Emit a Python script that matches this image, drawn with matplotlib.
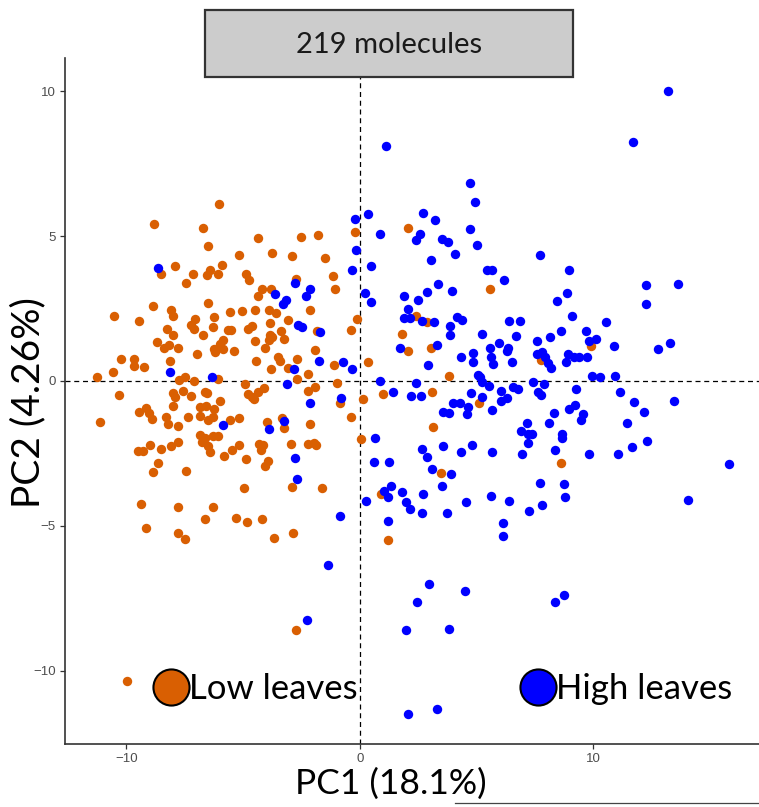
import matplotlib
matplotlib.use("Agg")
import matplotlib.pyplot as plt
from matplotlib.lines import Line2D
from matplotlib.patches import Rectangle

# ---------------- data (PC1, PC2) ----------------
low_x = [-6.03, -8.82, -6.74,
         -4.35, -6.51, -3.77, -5.19, -2.93, -2.53,
         -8.51, -7.92, -5.91, -6.42, -6.57, -6.09, -7.14, -7.44, -4.87, -4.77, -4.20, -3.82, -4.38, -2.74,
         -8.88, -6.52, -8.07, -8.02, -10.54, -9.46, -7.07, -7.24, -7.12, -6.27, -6.28, -5.57, -5.07, -4.50, -3.90, -3.61, -3.84, -3.08,
         -8.25, -8.01, -5.64, -5.52, -6.74, -4.80, -4.61, -3.40, -3.87, -3.77, -3.88, -4.50, -3.24,
         -8.68, -8.17, -8.38, -7.78, -5.85, -5.98, -6.24, -6.21, -5.85, -5.38, -6.97, -4.06,
         -10.22, -9.68, -9.69, -9.24, -10.59, -11.26, -8.12, -4.45, -3.52, -3.43, -3.81, -3.08, -2.69,
         -6.07, -7.47, -7.74, -7.11, -2.69, -4.91,
         -10.33, -8.02, -7.92, -7.58, -7.24, -6.63, -6.54, -5.98, -4.80, -4.61, -4.35, -4.10, -4.55,
         -11.13, -9.46, -9.15, -9.05, -8.92, -8.31, -8.22, -7.81, -8.02, -7.37, -6.84, -6.58, -6.24, -6.85, -6.50, -6.31, -5.55, -5.19, -4.00, -3.33, -3.24,
         -6.87, -6.64, -6.78, -6.31, -6.09, -6.50, -6.40, -9.01, -9.49, -9.31, -8.51, -8.07, -7.79, -8.65, -8.85, -7.44, -5.81, -5.47, -5.19, -4.88, -4.33, -4.13, -4.24, -3.95, -4.06, -2.96, -2.91, -4.97,
         -9.38, -7.78, -6.28, -6.63, -5.30, -4.85, -4.21, -9.14, -7.77, -7.49, -3.70, -2.86,
         -2.74, -9.99,
         -1.81, -0.19, 2.07, -1.50, -1.17, -1.08, 5.57, -2.13, -0.13, 2.41, 2.87, -1.85, -0.39, 1.81, 3.05, 2.06, -1.93, -1.11, 0.33, 3.83, -2.23, -1.94, -2.21, -0.99, 0.97, 3.10, 0.14, -0.84, 5.10,
         -0.40, -2.13, -2.21, -1.96, -1.90, -1.64, 0.04, 3.14, 3.46, 0.90, 1.19,
         9.89, 7.74, 8.60]
low_y = [6.09, 5.42, 5.28,
         4.92, 4.64, 4.40, 4.33, 4.30, 4.98,
         3.70, 3.98, 4.01, 3.83, 3.64, 3.69, 3.69, 3.38, 3.70, 3.47, 3.18, 3.18, 2.94, 3.51,
         2.60, 2.68, 2.44, 2.24, 2.23, 2.07, 2.15, 1.94, 1.80, 2.20, 1.85, 2.37, 2.41, 2.44, 2.46, 2.33, 2.00, 2.11,
         1.78, 1.59, 1.76, 1.75, 1.59, 1.80, 1.89, 1.71, 1.57, 1.53, 1.42, 1.39, 1.44,
         1.33, 1.23, 1.13, 1.15, 1.41, 1.28, 1.10, 1.00, 1.10, 1.03, 0.93, 1.14,
         0.77, 0.77, 0.53, 0.49, 0.32, 0.15, 0.70, 0.69, 0.82, 0.70, 0.41, 0.44, 0.76,
         0.06, 0.15, 0.02, -0.01, 0.08, -0.10,
         -0.49, -0.43, -0.56, -0.34, -0.51, -0.38, -0.43, -0.70, -0.45, -0.54, -0.38, -0.25, -0.63,
         -1.40, -1.06, -0.92, -1.11, -1.30, -1.23, -1.47, -1.54, -0.85, -1.23, -0.89, -0.86, -0.95, -1.21, -1.34, -1.23, -1.34, -1.26, -1.43, -1.29, -1.63,
         -1.87, -1.98, -2.10, -1.91, -1.89, -2.23, -2.45, -2.21, -2.43, -2.43, -2.34, -2.23, -2.10, -2.84, -3.13, -3.11, -2.59, -2.38, -2.21, -2.70, -2.17, -2.21, -2.38, -2.75, -2.92, -2.17, -3.64, -3.70,
         -4.25, -4.36, -4.34, -4.76, -4.71, -4.86, -4.75, -5.08, -5.23, -5.46, -5.40, -5.25,
         -8.59, -10.33,
         5.03, 5.14, 5.28, 4.23, 3.63, 3.18, 3.17, 2.44, 2.14, 2.23, 2.05, 1.72, 1.76, 1.61, 1.13, 1.02, 1.06, 0.55, 0.66, 0.18, 0.23, -0.20, -0.36, -0.08, -0.44, -0.37, -0.61, -0.75, -0.75,
         -1.23, -1.49, -2.18, -2.13, -2.21, -3.68, -2.00, -1.60, -3.18, -3.91, -5.49,
         1.22, 0.72, -2.84]

high_x = [1.10, 4.72, 4.94, -0.21, 0.34, 2.71, 3.22, 4.72,
          13.19, 11.71,
          -8.64, -3.65, -2.78, -3.16, -3.28, -2.64, -8.14, -2.84, -6.35, -3.14,
          -5.88, -3.90, -3.25, -2.78, -2.71,
          0.86, 2.57, 2.41, 3.51, 3.77, 5.01, -0.17, 4.06, 3.05, 0.46, -0.33, -2.15, -2.30, 0.23, 0.48, 5.44, 5.67, 6.17, 3.35, 3.94, 2.88, 1.87, 2.48, 2.04,
          1.87, 2.14, 2.64, 3.16, 4.15, 4.38, 3.85, 3.85, -2.50, -1.73, 6.38, 6.87, 5.24, 6.67, 5.95, 5.57, 6.35, 6.31, 3.30, 1.71,
          -1.76, -0.73, -0.34, 4.33, 4.85, 4.85, 5.60, 5.72, 6.51, 2.90, 0.86, 2.40, 5.04, 5.14, 5.21, 5.52, 6.55, 6.75, 6.03,
          1.40, 2.20, 2.63, 4.75, 5.24, 6.30, -0.81, -2.14, 4.00, 4.28, 6.03,
          0.64, 0.60, 1.25, 2.67, 2.86, 3.54, 4.31, 4.78, 5.67, 6.94, 3.57, 3.83, 4.61, 4.60, 5.67, 7.15, 6.90, 7.21,
          3.10, 3.88, 3.51, 1.31, 1.04, 1.19, 1.79, 2.71, 0.27, 1.96, 2.14, 2.67, 3.73, 4.54, 5.62, 6.38, 7.25, -0.84, 1.20, 6.12, 6.11, -1.38,
          2.94, 4.50, 2.43, -2.28, 1.98, 3.81, 2.04, 3.31,
          8.36, 8.72,
          7.71, 8.96, 12.26, 13.61, 8.87, 8.44, 12.26, 9.07, 10.55, 8.62, 9.67, 8.15, 7.59, 9.79, 10.11, 10.87, 13.26, 12.75,
          7.58, 7.81, 7.92, 8.04, 8.17, 8.89, 9.16, 9.38, 9.73, 8.82, 9.92, 10.29, 10.91, 7.41, 7.87, 7.61, 7.74, 9.25, 11.13, 11.75, 13.46,
          9.22, 8.94, 8.31, 9.54, 9.46, 8.11, 12.18, 11.45, 7.18, 7.35, 8.65, 8.67, 8.34, 9.79, 11.05, 11.66, 12.30,
          7.71, 8.74, 8.79, 7.79, 15.82, 14.05]
high_y = [8.09, 6.83, 6.17, 5.60, 5.75, 5.78, 5.55, 5.23,
          9.99, 8.23,
          3.91, 2.99, 3.37, 2.78, 2.66, 1.93, 0.31, 0.40, 0.14, -0.10,
          -1.52, -1.67, -1.37, -2.64, -3.39,
          5.07, 5.07, 4.86, 4.90, 4.79, 4.68, 4.53, 4.39, 4.16, 3.97, 3.82, 3.18, 2.92, 3.03, 2.74, 3.84, 3.84, 3.47, 3.36, 3.10, 3.06, 2.93, 2.78, 2.48,
          2.18, 2.18, 2.08, 2.03, 2.22, 2.11, 1.91, 1.58, 1.87, 1.69, 2.07, 2.07, 1.63, 1.54, 1.31, 1.13, 1.13, 1.03, 1.23, 1.14,
          0.69, 0.64, 0.42, 0.84, 0.95, 0.66, 0.82, 0.57, 0.67, 0.55, 0.01, -0.07, 0.22, 0.14, -0.02, -0.17, -0.21, -0.29, -0.33,
          -0.37, -0.53, -0.53, -0.40, -0.56, -0.59, -0.57, -0.75, -0.75, -0.77, -0.70,
          -1.98, -2.80, -2.80, -2.33, -2.61, -2.25, -2.45, -2.20, -2.44, -2.53, -1.06, -1.09, -0.91, -1.14, -1.00, -1.44, -1.74, -2.15,
          -3.02, -3.20, -3.63, -3.61, -3.79, -3.99, -3.84, -3.91, -4.14, -4.18, -4.43, -4.57, -4.56, -4.17, -3.97, -4.15, -4.48, -4.66, -4.82, -4.91, -5.34, -6.36,
          -7.01, -7.24, -7.63, -8.25, -8.59, -8.55, -11.49, -11.32,
          -7.63, -7.38,
          4.34, 3.83, 3.32, 3.36, 3.03, 2.77, 2.64, 2.25, 2.03, 1.71, 1.73, 1.53, 1.37, 1.38, 1.44, 1.21, 1.30, 1.10,
          0.92, 1.01, 0.82, 0.63, 0.44, 0.94, 0.84, 0.82, 0.84, 0.66, 0.18, 0.15, 0.18, -0.02, -0.11, -0.37, -0.47, -0.29, -0.39, -0.74, -0.70,
          -0.83, -0.95, -1.11, -1.13, -1.36, -1.45, -1.07, -1.44, -1.82, -1.83, -1.82, -1.95, -2.39, -2.51, -2.53, -2.28, -2.08,
          -3.53, -3.55, -4.01, -4.29, -2.85, -4.09]

group_labels = ["Low leaves", "High leaves"]
group_colors = ["#D95F02", "#0000FF"]
strip_title = "219 molecules"
x_title = "PC1 (18.1%)"
y_title = "PC2 (4.26%)"
x_ticks = [-10, 0, 10]
y_ticks = [-10, -5, 0, 5, 10]

# ---------------- figure ----------------
W, H = 759, 807
fig = plt.figure(figsize=(W / 100, H / 100), dpi=100)
ax = fig.add_axes([65 / W, (H - 744) / H, (759 - 65) / W, (744 - 58) / H])

ax.axhline(0, color="black", lw=0.9, ls=(0, (4, 3)), zorder=1)
ax.axvline(0, color="black", lw=0.9, ls=(0, (4, 3)), zorder=1)

ax.scatter(low_x, low_y, s=46, color=group_colors[0], linewidths=0, zorder=2)
ax.scatter(high_x, high_y, s=46, color=group_colors[1], linewidths=0, zorder=2)

ax.set_xlim(-12.63, 17.09)
ax.set_ylim(-12.52, 11.14)
ax.set_xticks(x_ticks)
ax.set_yticks(y_ticks)

for s in ["top", "right"]:
    ax.spines[s].set_visible(False)
for s in ["left", "bottom"]:
    ax.spines[s].set_color("#333333")
    ax.spines[s].set_linewidth(1.2)
ax.tick_params(axis="both", length=3.5, width=0.9, color="#333333",
               labelcolor="#4D4D4D", labelsize=9.5, pad=3)
for lab in ax.get_xticklabels() + ax.get_yticklabels():
    lab.set_fontfamily("Liberation Sans")

ax.set_xlabel(x_title, family="Lato", size=25.5, color="black", va="center")
ax.xaxis.set_label_coords((391 - 65) / 694, (744 - 784) / 686)
ax.set_ylabel(y_title, family="Lato", size=28, color="black", va="center")
ax.yaxis.set_label_coords((28 - 65) / 694, (744 - 403) / 686)

# legend entries inside the panel
handles = [Line2D([], [], ls="none", marker="o", markersize=26,
                  markerfacecolor=c, markeredgecolor="black", markeredgewidth=1.5)
           for c in group_colors]
anchors = [((153 - 65) / 694, (744 - 689) / 686), ((520 - 65) / 694, (744 - 689) / 686)]
legs = []
for h, lab, anc in zip(handles, group_labels, anchors):
    leg = ax.legend(handles=[h], labels=[lab], loc="center left", bbox_to_anchor=anc,
                    frameon=False, handletextpad=0.0, handlelength=1.05, borderpad=0,
                    borderaxespad=0, prop=dict(family="Lato", size=25))
    legs.append(leg)
for leg in legs[:-1]:
    ax.add_artist(leg)

# facet strip
strip = Rectangle((205 / W, (H - 77) / H), 368 / W, 67 / H, transform=fig.transFigure,
                  facecolor="#CCCCCC", edgecolor="#333333", lw=1.6, zorder=5)
fig.add_artist(strip)
fig.text(389 / W, (H - 45) / H, strip_title, ha="center", va="center",
         family="Lato", size=21, color="#1A1A1A", zorder=6)

# thin line at bottom right
fig.add_artist(Line2D([455 / W, 1.0], [(H - 803) / H] * 2, transform=fig.transFigure,
                      color="#444444", lw=0.9))

fig.savefig("out.png", dpi=100)
